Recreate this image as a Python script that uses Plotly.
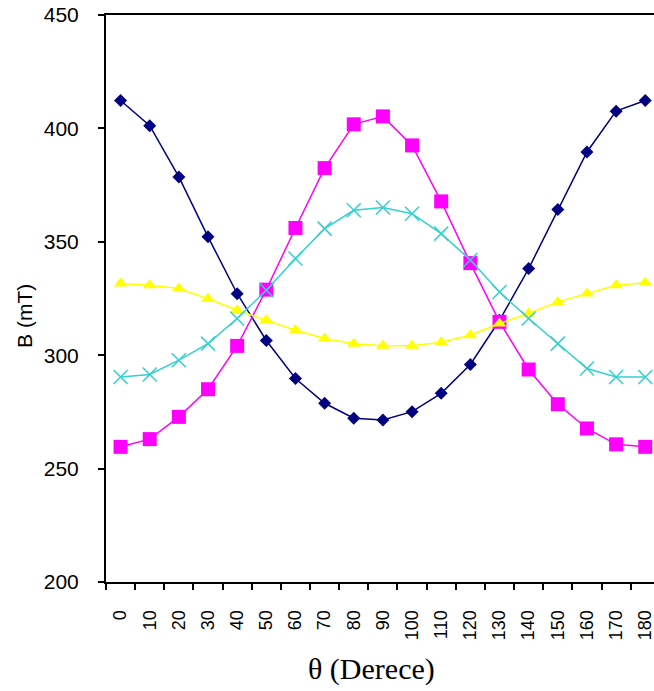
import plotly.graph_objects as go

# Angle values (degrees) used as categories on the x axis
angles = [str(a) for a in range(0, 190, 10)]

# Magnetic field B (mT) measured at each angle, four probe positions
b_series1 = [412.3, 401.2, 378.6, 352.2, 327.1, 306.5, 289.7, 278.8, 272.2, 271.4,
             275.1, 283.2, 295.9, 315.4, 338.2, 364.2, 389.6, 407.6, 412.3]
b_series2 = [259.6, 263.0, 272.8, 285.0, 304.1, 328.9, 356.1, 382.5, 401.8, 405.3,
             392.5, 367.8, 340.6, 314.7, 293.7, 278.4, 267.7, 260.7, 259.6]
b_series3 = [331.6, 330.8, 329.4, 324.9, 319.8, 315.4, 311.0, 307.4, 305.1, 304.2,
             304.2, 305.7, 308.8, 314.0, 318.4, 323.5, 327.2, 330.8, 331.9]
b_series4 = [290.4, 291.5, 297.8, 305.1, 316.2, 328.6, 342.6, 355.8, 363.9, 365.1,
             362.4, 353.6, 342.0, 327.9, 316.2, 305.1, 294.1, 290.4, 290.4]

y_ticks = [200, 250, 300, 350, 400, 450]

fig = go.Figure()

fig.add_trace(go.Scatter(
    x=angles, y=b_series1, mode="lines+markers",
    line=dict(color="#000080", width=1.5),
    marker=dict(symbol="diamond", size=10, color="#000080"),
))
fig.add_trace(go.Scatter(
    x=angles, y=b_series2, mode="lines+markers",
    line=dict(color="#FF00FF", width=1.5),
    marker=dict(symbol="square", size=14, color="#FF00FF"),
))
fig.add_trace(go.Scatter(
    x=angles, y=b_series3, mode="lines+markers",
    line=dict(color="#FFFF00", width=1.5),
    marker=dict(symbol="triangle-up", size=12, color="#FFFF00"),
))
fig.add_trace(go.Scatter(
    x=angles, y=b_series4, mode="lines+markers",
    line=dict(color="#33D0D0", width=1.5),
    marker=dict(symbol="x-thin", size=14, color="#33D0D0",
                line=dict(color="#33D0D0", width=1.5)),
))

fig.update_layout(
    width=654, height=691,
    margin=dict(l=106, r=0, t=15, b=109),
    paper_bgcolor="white", plot_bgcolor="white",
    showlegend=False,
    font=dict(family="Liberation Sans, Arial, sans-serif", color="black"),
)

fig.update_xaxes(
    type="category", range=[-0.5, 18.3],
    tickson="boundaries", ticks="outside", ticklen=6, tickwidth=1.5, tickcolor="black",
    tickangle=-90, tickfont=dict(size=18), ticklabelstandoff=19,
    showline=True, linecolor="black", linewidth=2, mirror=True,
    showgrid=False, zeroline=False,
)
fig.update_yaxes(
    range=[200, 450], tickvals=y_ticks,
    ticks="outside", ticklen=6, tickwidth=1.5, tickcolor="black",
    tickfont=dict(size=21), ticklabelstandoff=15,
    showline=True, linecolor="black", linewidth=2,
    showgrid=False, zeroline=False,
)

fig.add_annotation(
    text="θ (Derece)", xref="paper", yref="paper", x=0.485, y=-0.153,
    showarrow=False, xanchor="center", yanchor="middle",
    font=dict(family="Liberation Serif, Times New Roman, serif", size=30),
)
fig.add_annotation(
    text="B (mT)", xref="paper", yref="paper", x=-0.150, y=0.469,
    showarrow=False, xanchor="center", yanchor="middle", textangle=-90,
    font=dict(size=21),
)

fig.write_html("out.html")
